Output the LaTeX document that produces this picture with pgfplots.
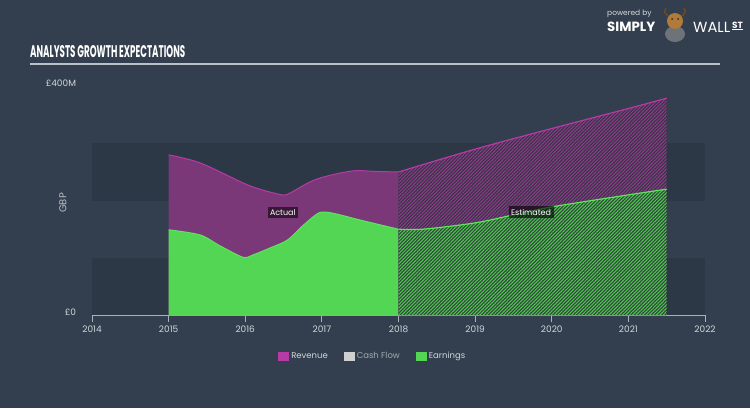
\documentclass[border=0pt]{standalone}
\usepackage{fontspec}
\setmainfont{Poppins}
\usepackage{graphicx}
\usepackage{pgfplots}
\pgfplotsset{compat=1.18}
\usetikzlibrary{patterns.meta}

\definecolor{bg}{HTML}{333F4E}
\definecolor{band}{HTML}{2D3846}
\definecolor{axiscol}{HTML}{A9B1BB}
\definecolor{ticktext}{HTML}{D3D7DC}
\definecolor{revfill}{HTML}{7A3878}
\definecolor{revline}{HTML}{B63BA4}
\definecolor{revbase}{HTML}{3A3447}
\definecolor{revhatch}{HTML}{8E3C8B}
\definecolor{earnfill}{HTML}{52D654}
\definecolor{earnline}{HTML}{5CE65C}
\definecolor{earnbase}{HTML}{2F4A3A}
\definecolor{earnhatch}{HTML}{52C853}
\definecolor{cashcol}{HTML}{D0D0D0}
\definecolor{suitgray}{HTML}{6E737A}
\definecolor{mascot}{HTML}{B07A3A}
\definecolor{mascoteye}{HTML}{3A2A1A}

\begin{document}
\begin{tikzpicture}[x=1bp,y=1bp]
% background and horizontal bands
\fill[bg] (0,0) rectangle (750,408);
\fill[band] (92,93) rectangle (705,150.2);
\fill[band] (92,207.4) rectangle (705,264.6);

% title and rule
\node[anchor=south west, inner sep=0, text=white] at (30,350)
  {\resizebox{155bp}{12bp}{\bfseries ANALYSTS GROWTH EXPECTATIONS}};
\draw[line width=1.5bp, color=axiscol!80!white] (30,344) -- (720,344);

% logo
\node[anchor=west, inner sep=0, text=ticktext, font=\fontsize{7.5}{8}\selectfont] at (607,394) {powered by};
\node[anchor=west, inner sep=0, text=white] at (607,381)
  {\resizebox{48bp}{!}{\bfseries SIMPLY}};
\fill[suitgray] (675,374) ellipse (10 and 8);
\fill[mascot] (675,387) circle (8);
\draw[line width=1.5bp, color=mascot!60!black] (668,392) .. controls (664,396) .. (666,400);
\draw[line width=1.5bp, color=mascot!60!black] (682,392) .. controls (686,396) .. (684,400);
\fill[mascoteye] (672,389) circle (1) (678,389) circle (1);
\node[anchor=west, inner sep=0, text=white] at (693,381)
  {\resizebox{37bp}{!}{WALL}};
\node[anchor=west, inner sep=0, text=white, font=\fontsize{9}{9}\selectfont\bfseries] at (732,382) {\underline{ST}};

% y axis title
\node[rotate=90, text=ticktext!85!bg, font=\fontsize{10}{11}\selectfont] at (63,205) {GBP};

\begin{axis}[
  at={(92bp,93bp)}, anchor=south west,
  scale only axis, width=613bp, height=228.8bp,
  xmin=2014, xmax=2022, ymin=0, ymax=400,
  axis x line=bottom, axis y line=left,
  x axis line style={-, draw=axiscol, line width=0.8bp},
  y axis line style={draw=none},
  xtick={2014,2015,2016,2017,2018,2019,2020,2021,2022},
  xticklabels={2014,2015,2016,2017,2018,2019,2020,2021,2022},
  xtick align=outside, major tick length=7bp,
  xtick style={draw=axiscol, line width=0.8bp},
  ytick={0,400}, yticklabels={£0,£400M},
  ytick style={draw=none},
  xticklabel style={text=ticktext, font=\fontsize{9}{10}\selectfont},
  yticklabel style={text=ticktext, font=\fontsize{9}{10}\selectfont, xshift=-9bp, yshift=3bp},
  legend style={at={(0.458,-0.18)}, anchor=center, draw=none, fill=none,
    text=ticktext, font=\fontsize{8.5}{10}\selectfont, legend columns=-1,
    /tikz/every even column/.append style={column sep=14bp}},
  legend image code/.code={\fill[#1] (0bp,-4.5bp) rectangle (11bp,4.5bp);},
]
% actual
\addplot[forget plot, draw=none, fill=revfill, smooth, tension=0.5] coordinates {
 (2015,280) (2015.41,266) (2015.97,231) (2016.19,220) (2016.48,210) (2016.58,213)
 (2016.85,233) (2017.07,243) (2017.41,252) (2017.7,251) (2018,250)} \closedcycle;
\addplot[forget plot, revline, line width=1bp, smooth, tension=0.5] coordinates {
 (2015,280) (2015.41,266) (2015.97,231) (2016.19,220) (2016.48,210) (2016.58,213)
 (2016.85,233) (2017.07,243) (2017.41,252) (2017.7,251) (2018,250)};
\addplot[forget plot, draw=none, fill=earnfill, smooth, tension=0.5] coordinates {
 (2015,149) (2015.41,140) (2015.67,121) (2015.97,101) (2016.10,105) (2016.32,117)
 (2016.55,131) (2016.75,156) (2016.94,177) (2017.05,180) (2017.24,175) (2017.5,166) (2018,150)} \closedcycle;
\addplot[forget plot, earnline, line width=1bp, smooth, tension=0.5] coordinates {
 (2015,149) (2015.41,140) (2015.67,121) (2015.97,101) (2016.10,105) (2016.32,117)
 (2016.55,131) (2016.75,156) (2016.94,177) (2017.05,180) (2017.24,175) (2017.5,166) (2018,150)};
% estimated
\addplot[forget plot, draw=none, fill=revbase, smooth,
  postaction={pattern={Lines[angle=45, distance=2.4bp, line width=1bp]}, pattern color=revhatch}]
  coordinates {(2018,250) (2019,290) (2020,326) (2021,361) (2021.5,379)} \closedcycle;
\addplot[forget plot, revline, line width=1.2bp, smooth] coordinates {
 (2018,250) (2019,290) (2020,326) (2021,361) (2021.5,379)};
\addplot[forget plot, draw=none, fill=earnbase, smooth,
  postaction={pattern={Lines[angle=45, distance=2.4bp, line width=1bp]}, pattern color=earnhatch}]
  coordinates {(2018,150) (2018.32,150) (2019,161) (2019.5,175) (2020,189) (2021,210) (2021.5,220)} \closedcycle;
\addplot[forget plot, earnline, line width=1.2bp, smooth] coordinates {
 (2018,150) (2018.32,150) (2019,161) (2019.5,175) (2020,189) (2021,210) (2021.5,220)};

\addlegendimage{fill=revline, draw=none}
\addlegendentry{Revenue}
\addlegendimage{fill=cashcol, draw=none}
\addlegendentry{\textcolor{ticktext!70!bg}{Cash Flow}}
\addlegendimage{fill=earnfill, draw=none}
\addlegendentry{Earnings}

\node[fill=black, fill opacity=0.55, text opacity=1, text=white, inner sep=2.5bp,
  font=\fontsize{8}{9}\selectfont] at (axis cs:2016.49,179) {Actual};
\node[fill=black, fill opacity=0.6, text opacity=1, text=white, inner sep=2.5bp,
  font=\fontsize{8}{9}\selectfont] at (axis cs:2019.73,180) {Estimated};
\end{axis}
\end{tikzpicture}
\end{document}
